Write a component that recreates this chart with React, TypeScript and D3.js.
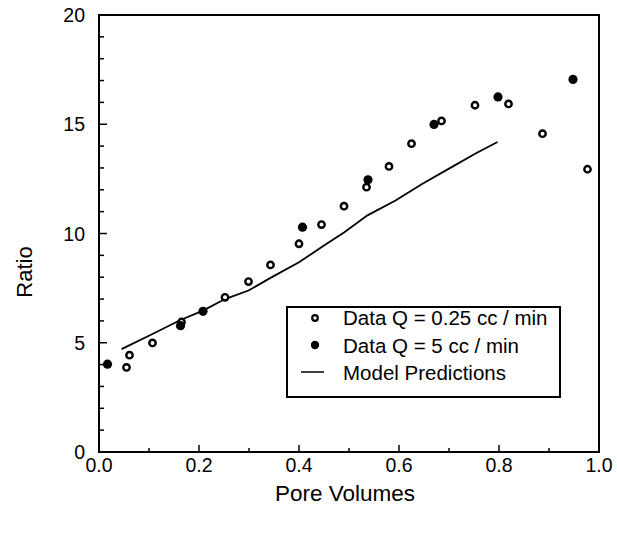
import React from "react";
import * as d3 from "d3";

const openX = [0.055, 0.061, 0.107, 0.165, 0.252, 0.299, 0.343, 0.4, 0.445, 0.49, 0.535, 0.58, 0.625, 0.685, 0.752, 0.819, 0.887, 0.977];
const openY = [3.87, 4.43, 4.99, 5.95, 7.08, 7.8, 8.56, 9.53, 10.41, 11.25, 12.12, 13.07, 14.11, 15.15, 15.87, 15.93, 14.57, 12.94];
const filledX = [0.017, 0.163, 0.208, 0.407, 0.538, 0.67, 0.798, 0.948];
const filledY = [4.02, 5.78, 6.44, 10.29, 12.46, 14.99, 16.25, 17.05];
const modelX = [0.045, 0.107, 0.163, 0.208, 0.252, 0.299, 0.343, 0.4, 0.45, 0.49, 0.537, 0.593, 0.647, 0.7, 0.753, 0.797];
const modelY = [4.71, 5.4, 6.04, 6.47, 7.0, 7.39, 7.97, 8.68, 9.45, 10.05, 10.83, 11.51, 12.28, 12.97, 13.66, 14.19];
const xTickLabels = ["0.0", "0.2", "0.4", "0.6", "0.8", "1.0"];
const yTickLabels = ["0", "5", "10", "15", "20"];
const legendLabels = ["Data Q = 0.25 cc / min", "Data Q = 5 cc / min", "Model Predictions"];

const FONT = "'Liberation Sans', Arial, Helvetica, sans-serif";

export default function App() {
  const x = d3.scaleLinear().domain([0, 1]).range([99, 599]);
  const y = d3.scaleLinear().domain([0, 20]).range([452, 15]);
  const line = d3
    .line<number>()
    .x((_, i) => x(modelX[i]))
    .y((_, i) => y(modelY[i]));
  const xMinor = d3.range(0, 11).map((i) => i / 10);
  const yMinor = d3.range(0, 21);

  return (
    <svg width={617} height={533} style={{ position: "absolute", left: 0, top: 0, background: "#fff" }} fontFamily={FONT}>
      <rect x={x(0)} y={y(20)} width={x(1) - x(0)} height={y(0) - y(20)} fill="none" stroke="#000" strokeWidth={2} />
      {xMinor.map((v, i) => (
        <line key={"xt" + i} x1={x(v)} x2={x(v)} y1={y(0)} y2={y(0) - (i % 2 === 0 ? 7 : 4)} stroke="#000" strokeWidth={1.5} />
      ))}
      {yMinor.map((v, i) => (
        <line key={"yt" + i} x1={x(0)} x2={x(0) + (i % 5 === 0 ? 8 : 5)} y1={y(v)} y2={y(v)} stroke="#000" strokeWidth={1.5} />
      ))}
      {xTickLabels.map((t) => (
        <text key={"xl" + t} x={x(+t)} y={y(0) + 20} textAnchor="middle" fontSize={19.5}>
          {t}
        </text>
      ))}
      {yTickLabels.map((t) => (
        <text key={"yl" + t} x={x(0) - 14} y={y(+t) + 7} textAnchor="end" fontSize={19.5}>
          {t}
        </text>
      ))}
      <text x={345} y={501} textAnchor="middle" fontSize={22.5}>
        Pore Volumes
      </text>
      <text transform={`translate(32,272) rotate(-90)`} textAnchor="middle" fontSize={22}>
        Ratio
      </text>
      <path d={line(modelX) || ""} fill="none" stroke="#000" strokeWidth={1.8} />
      {openX.map((v, i) => (
        <circle key={"o" + i} cx={x(v)} cy={y(openY[i])} r={3.2} fill="#fff" stroke="#000" strokeWidth={2.4} />
      ))}
      {filledX.map((v, i) => (
        <circle key={"f" + i} cx={x(v)} cy={y(filledY[i])} r={4.6} fill="#000" />
      ))}
      <g>
        <rect x={287} y={307} width={273} height={90} fill="#fff" stroke="#000" strokeWidth={2} />
        <circle cx={315} cy={318} r={2.8} fill="#fff" stroke="#000" strokeWidth={2.2} />
        <circle cx={315} cy={345} r={4.2} fill="#000" />
        <line x1={301} x2={324} y1={372} y2={372} stroke="#000" strokeWidth={1.5} />
        {legendLabels.map((t, i) => (
          <text key={"lg" + i} x={343} y={325 + i * 27.5} fontSize={20.5}>
            {t}
          </text>
        ))}
      </g>
    </svg>
  );
}
